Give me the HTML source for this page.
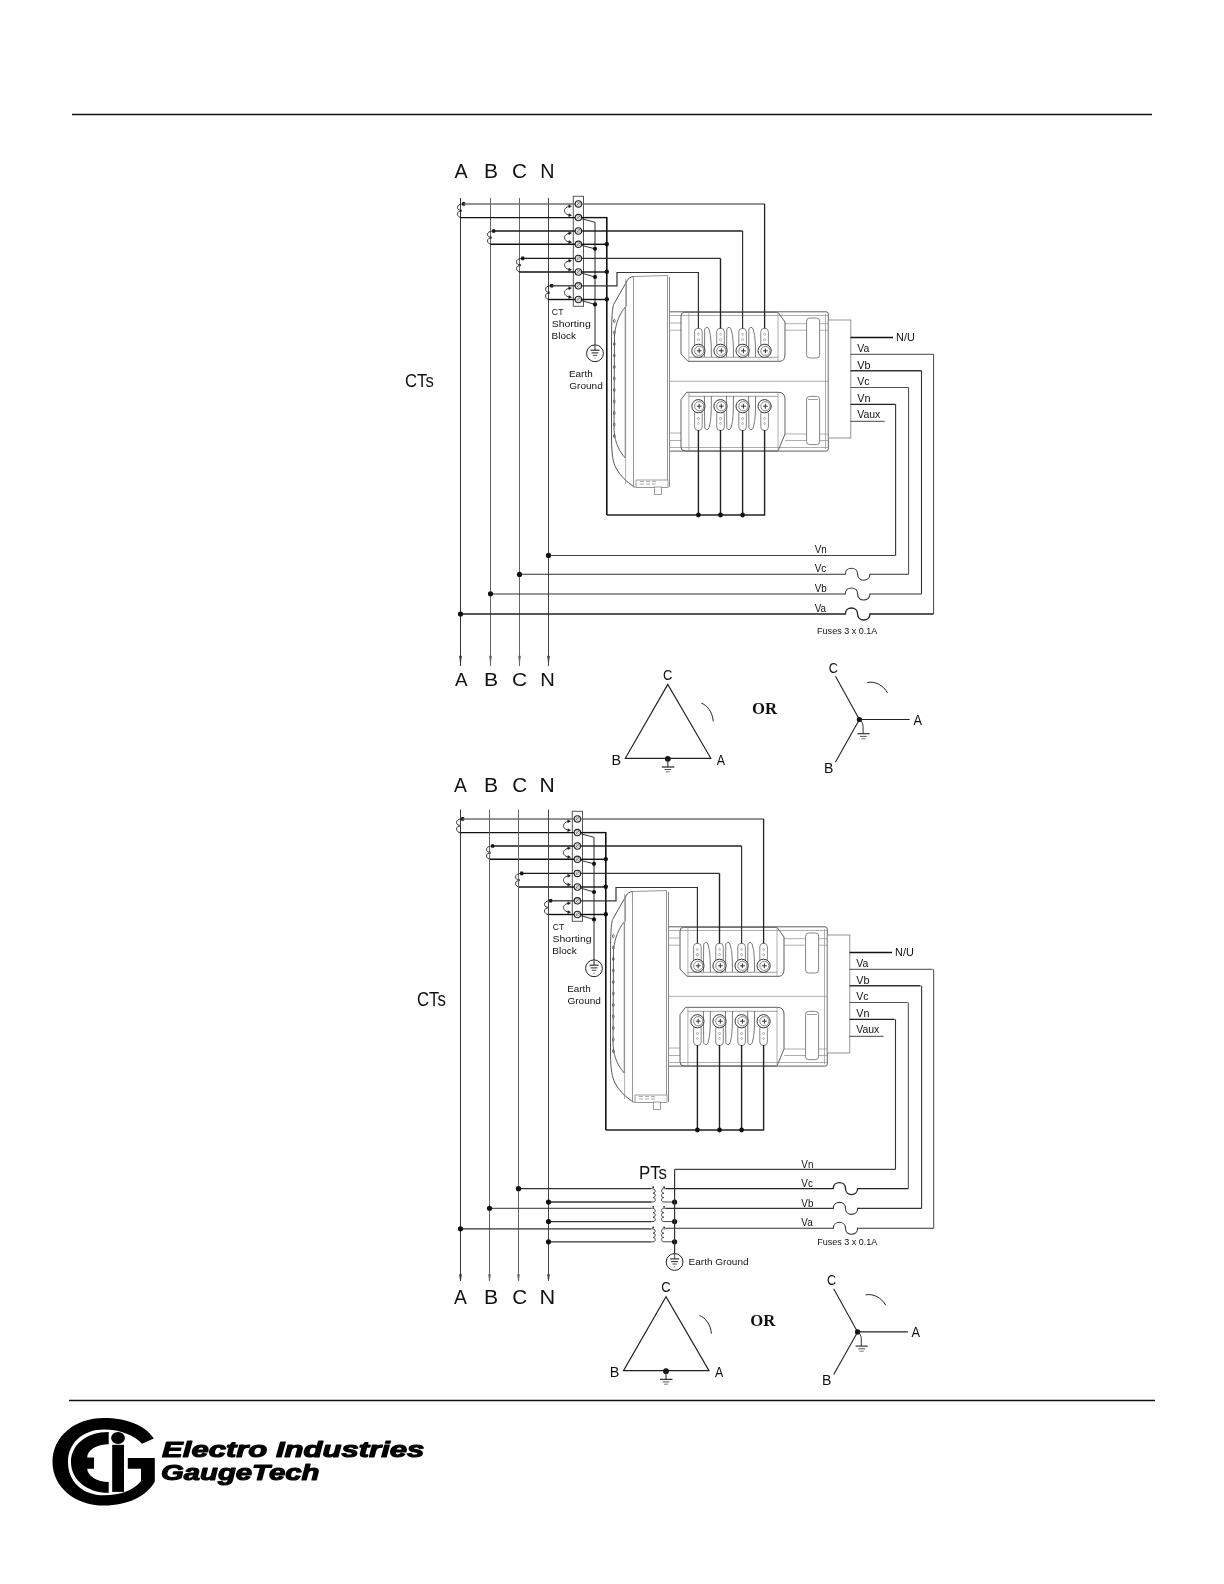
<!DOCTYPE html><html><head><meta charset="utf-8"><style>html,body{margin:0;padding:0;background:#fff;}svg{display:block;will-change:transform;}</style></head><body>
<svg width="1224" height="1584" viewBox="0 0 1224 1584">
<rect width="1224" height="1584" fill="#fff"/>
<line x1="72" y1="114.5" x2="1152" y2="114.5" stroke="#111" stroke-width="1.3"/>
<line x1="69" y1="1400.5" x2="1155" y2="1400.5" stroke="#111" stroke-width="1.3"/>
<defs>
<g id="ctsec">
<rect x="573.3" y="196.3" width="10.2" height="110" fill="none" stroke="#555" stroke-width="1"/>
<path d="M463.0,203.9 C459.5,203.9 457.5,205.4 457.5,207.325 C457.5,209.75 459.5,210.75 462.0,210.25 M462.0,211.25 C459.5,210.75 457.5,211.75 457.5,214.175 C457.5,216.1 459.5,217.6 461.5,217.6" stroke="#222" stroke-width="0.9" fill="none" />
<rect x="462.1" y="202.1" width="3.2" height="3.6" rx="0.8" fill="#111"/>
<path d="M493.0,231.0 C489.5,231.0 487.5,232.5 487.5,234.325 C487.5,236.65 489.5,237.65 492.0,237.15 M492.0,238.15 C489.5,237.65 487.5,238.65 487.5,240.97500000000002 C487.5,242.8 489.5,244.3 491.5,244.3" stroke="#222" stroke-width="0.9" fill="none" />
<rect x="492.1" y="229.2" width="3.2" height="3.6" rx="0.8" fill="#111"/>
<path d="M522.0,258.4 C518.5,258.4 516.5,259.9 516.5,261.79999999999995 C516.5,264.2 518.5,265.2 521.0,264.7 M521.0,265.7 C518.5,265.2 516.5,266.2 516.5,268.6 C516.5,270.5 518.5,272.0 520.5,272.0" stroke="#222" stroke-width="0.9" fill="none" />
<rect x="521.1" y="256.59999999999997" width="3.2" height="3.6" rx="0.8" fill="#111"/>
<path d="M551.0,285.8 C547.5,285.8 545.5,287.3 545.5,289.225 C545.5,291.65 547.5,292.65 550.0,292.15 M550.0,293.15 C547.5,292.65 545.5,293.65 545.5,296.075 C545.5,298.0 547.5,299.5 549.5,299.5" stroke="#222" stroke-width="0.9" fill="none" />
<rect x="550.1" y="284.0" width="3.2" height="3.6" rx="0.8" fill="#111"/>
<line x1="463.5" y1="203.9" x2="575.4" y2="203.9" stroke="#707070" stroke-width="1.5"/>
<line x1="460.5" y1="217.6" x2="575.4" y2="217.6" stroke="#111" stroke-width="1.4"/>
<line x1="493.5" y1="231.0" x2="575.4" y2="231.0" stroke="#1a1a1a" stroke-width="1.3"/>
<line x1="490.5" y1="244.3" x2="575.4" y2="244.3" stroke="#111" stroke-width="1.4"/>
<line x1="522.5" y1="258.4" x2="575.4" y2="258.4" stroke="#1a1a1a" stroke-width="1.3"/>
<line x1="519.5" y1="272.0" x2="575.4" y2="272.0" stroke="#111" stroke-width="1.4"/>
<line x1="551.5" y1="285.8" x2="575.4" y2="285.8" stroke="#333" stroke-width="1.3"/>
<line x1="548.5" y1="299.5" x2="575.4" y2="299.5" stroke="#111" stroke-width="1.4"/>
<circle cx="578.4" cy="203.9" r="3.2" fill="#fff" stroke="#222" stroke-width="1.1"/>
<circle cx="578.6999999999999" cy="203.70000000000002" r="1.7" fill="none" stroke="#666" stroke-width="0.5"/>
<line x1="576.5" y1="205.4" x2="580.1" y2="202.20000000000002" stroke="#333" stroke-width="0.7"/>
<circle cx="578.4" cy="217.6" r="3.2" fill="#fff" stroke="#222" stroke-width="1.1"/>
<circle cx="578.6999999999999" cy="217.4" r="1.7" fill="none" stroke="#666" stroke-width="0.5"/>
<line x1="576.5" y1="219.1" x2="580.1" y2="215.9" stroke="#333" stroke-width="0.7"/>
<circle cx="578.4" cy="231.0" r="3.2" fill="#fff" stroke="#222" stroke-width="1.1"/>
<circle cx="578.6999999999999" cy="230.8" r="1.7" fill="none" stroke="#666" stroke-width="0.5"/>
<line x1="576.5" y1="232.5" x2="580.1" y2="229.3" stroke="#333" stroke-width="0.7"/>
<circle cx="578.4" cy="244.3" r="3.2" fill="#fff" stroke="#222" stroke-width="1.1"/>
<circle cx="578.6999999999999" cy="244.10000000000002" r="1.7" fill="none" stroke="#666" stroke-width="0.5"/>
<line x1="576.5" y1="245.8" x2="580.1" y2="242.60000000000002" stroke="#333" stroke-width="0.7"/>
<circle cx="578.4" cy="258.4" r="3.2" fill="#fff" stroke="#222" stroke-width="1.1"/>
<circle cx="578.6999999999999" cy="258.2" r="1.7" fill="none" stroke="#666" stroke-width="0.5"/>
<line x1="576.5" y1="259.9" x2="580.1" y2="256.7" stroke="#333" stroke-width="0.7"/>
<circle cx="578.4" cy="272.0" r="3.2" fill="#fff" stroke="#222" stroke-width="1.1"/>
<circle cx="578.6999999999999" cy="271.8" r="1.7" fill="none" stroke="#666" stroke-width="0.5"/>
<line x1="576.5" y1="273.5" x2="580.1" y2="270.3" stroke="#333" stroke-width="0.7"/>
<circle cx="578.4" cy="285.8" r="3.2" fill="#fff" stroke="#222" stroke-width="1.1"/>
<circle cx="578.6999999999999" cy="285.6" r="1.7" fill="none" stroke="#666" stroke-width="0.5"/>
<line x1="576.5" y1="287.3" x2="580.1" y2="284.1" stroke="#333" stroke-width="0.7"/>
<circle cx="578.4" cy="299.5" r="3.2" fill="#fff" stroke="#222" stroke-width="1.1"/>
<circle cx="578.6999999999999" cy="299.3" r="1.7" fill="none" stroke="#666" stroke-width="0.5"/>
<line x1="576.5" y1="301.0" x2="580.1" y2="297.8" stroke="#333" stroke-width="0.7"/>
<path d="M570.6,206.45 C566.5,206.25 564.5,208.75 564.5,210.75 C564.5,212.75 566.5,215.25 570.6,215.05" stroke="#222" stroke-width="0.9" fill="none" />
<path d="M568.6,204.75 L571.6,206.15 L568.9,207.85 Z" stroke="#222" stroke-width="0.4" fill="#222" />
<path d="M568.9,213.65 L571.6,215.35 L568.6,216.75 Z" stroke="#222" stroke-width="0.4" fill="#222" />
<path d="M570.6,233.35 C566.5,233.15 564.5,235.65 564.5,237.65 C564.5,239.65 566.5,242.15 570.6,241.95000000000002" stroke="#222" stroke-width="0.9" fill="none" />
<path d="M568.6,231.65 L571.6,233.05 L568.9,234.75 Z" stroke="#222" stroke-width="0.4" fill="#222" />
<path d="M568.9,240.55 L571.6,242.25 L568.6,243.65 Z" stroke="#222" stroke-width="0.4" fill="#222" />
<path d="M570.6,260.9 C566.5,260.7 564.5,263.2 564.5,265.2 C564.5,267.2 566.5,269.7 570.6,269.5" stroke="#222" stroke-width="0.9" fill="none" />
<path d="M568.6,259.2 L571.6,260.59999999999997 L568.9,262.3 Z" stroke="#222" stroke-width="0.4" fill="#222" />
<path d="M568.9,268.09999999999997 L571.6,269.8 L568.6,271.2 Z" stroke="#222" stroke-width="0.4" fill="#222" />
<path d="M570.6,288.34999999999997 C566.5,288.15 564.5,290.65 564.5,292.65 C564.5,294.65 566.5,297.15 570.6,296.95" stroke="#222" stroke-width="0.9" fill="none" />
<path d="M568.6,286.65 L571.6,288.04999999999995 L568.9,289.75 Z" stroke="#222" stroke-width="0.4" fill="#222" />
<path d="M568.9,295.54999999999995 L571.6,297.25 L568.6,298.65 Z" stroke="#222" stroke-width="0.4" fill="#222" />
<line x1="595.0" y1="222.3" x2="595.0" y2="345" stroke="#777" stroke-width="1.6"/>
<line x1="581.1999999999999" y1="218.6" x2="595.0" y2="222.3" stroke="#333" stroke-width="1.0"/>
<line x1="581.1999999999999" y1="245.3" x2="595.0" y2="248.8" stroke="#333" stroke-width="1.0"/>
<circle cx="595.0" cy="248.8" r="2.1" fill="#111"/>
<line x1="581.1999999999999" y1="273.0" x2="595.0" y2="277.0" stroke="#333" stroke-width="1.0"/>
<circle cx="595.0" cy="277.0" r="2.1" fill="#111"/>
<line x1="581.1999999999999" y1="300.5" x2="595.0" y2="304.4" stroke="#333" stroke-width="1.0"/>
<circle cx="595.0" cy="304.4" r="2.1" fill="#111"/>
<line x1="581.4" y1="217.6" x2="606.8" y2="217.6" stroke="#111" stroke-width="1.4"/>
<line x1="581.4" y1="244.3" x2="606.8" y2="244.3" stroke="#111" stroke-width="1.4"/>
<circle cx="606.8" cy="244.10000000000002" r="2.2" fill="#111"/>
<line x1="581.4" y1="272.0" x2="606.8" y2="272.0" stroke="#111" stroke-width="1.4"/>
<circle cx="606.8" cy="271.8" r="2.2" fill="#111"/>
<line x1="581.4" y1="299.5" x2="606.8" y2="299.5" stroke="#111" stroke-width="1.4"/>
<circle cx="606.8" cy="299.3" r="2.2" fill="#111"/>
<line x1="606.8" y1="217.0" x2="606.8" y2="515" stroke="#111" stroke-width="1.6"/>
<line x1="581.4" y1="203.9" x2="764.6" y2="203.9" stroke="#707070" stroke-width="1.5"/>
<line x1="764.6" y1="203.9" x2="764.6" y2="328.5" stroke="#222" stroke-width="1.3"/>
<line x1="581.4" y1="231.0" x2="742.6" y2="231.0" stroke="#222" stroke-width="1.3"/>
<line x1="742.6" y1="231.0" x2="742.6" y2="328.5" stroke="#333" stroke-width="1.2"/>
<line x1="581.4" y1="258.4" x2="720.5" y2="258.4" stroke="#333" stroke-width="1.2"/>
<line x1="720.5" y1="258.4" x2="720.5" y2="328.5" stroke="#222" stroke-width="1.4"/>
<polyline points="581.4,285.8 617,285.8 617,272.5 698.4,272.5 698.4,328.5" fill="none" stroke="#333" stroke-width="1.2"/>
<polyline points="606.8,515 764.6,515 764.6,430" fill="none" stroke="#222" stroke-width="1.4"/>
<line x1="698.4" y1="430" x2="698.4" y2="515" stroke="#222" stroke-width="1.4"/>
<circle cx="698.4" cy="515" r="2.4" fill="#111"/>
<line x1="720.5" y1="430" x2="720.5" y2="515" stroke="#222" stroke-width="1.4"/>
<circle cx="720.5" cy="515" r="2.4" fill="#111"/>
<line x1="742.6" y1="430" x2="742.6" y2="515" stroke="#222" stroke-width="1.4"/>
<circle cx="742.6" cy="515" r="2.4" fill="#111"/>
<circle cx="595.0" cy="353.3" r="8.4" fill="#fff" stroke="#222" stroke-width="1"/>
<line x1="595.0" y1="345" x2="595.0" y2="350" stroke="#777" stroke-width="1.6"/>
<line x1="590.5" y1="350.2" x2="599.5" y2="350.2" stroke="#222" stroke-width="1.1"/>
<line x1="591.6" y1="352.9" x2="598.4" y2="352.9" stroke="#222" stroke-width="1.0"/>
<line x1="592.8" y1="355.3" x2="597.2" y2="355.3" stroke="#333" stroke-width="0.9"/>
<line x1="594.4" y1="358.2" x2="595.6" y2="358.2" stroke="#555" stroke-width="0.8"/>
</g>
<g id="meter">
<path d="M633.5,276.5 L667.5,275.5 L667.5,487 L633.5,487 Z" stroke="#8a8a8a" stroke-width="0.9" fill="#fff" />
<line x1="669.5" y1="277" x2="669.5" y2="487" stroke="#888" stroke-width="1.0"/>
<path d="M633.5,276.5 C630,277 628.5,278.5 627.3,280.4 L613.6,304.5 C612,310 611.6,320 611.5,340 L611.5,440 C611.8,455 613,462 616,468 C620,476 627,482 633.5,486.5" stroke="#555" stroke-width="1.0" fill="none" />
<path d="M625.3,307 C620,313 616,322 614.5,335 L614,430 C615,444 620,452 625.3,458 Z" stroke="#606060" stroke-width="1.0" fill="none" />
<line x1="626.4" y1="280.4" x2="626.4" y2="306.5" stroke="#777" stroke-width="0.8"/>
<line x1="625.6" y1="279" x2="625.6" y2="484" stroke="#999" stroke-width="0.8"/>
<ellipse cx="614.3" cy="321.0" rx="0.9" ry="1.6" fill="none" stroke="#555" stroke-width="0.8"/>
<ellipse cx="614.3" cy="332.5" rx="0.9" ry="1.6" fill="none" stroke="#555" stroke-width="0.8"/>
<ellipse cx="614.3" cy="344.0" rx="0.9" ry="1.6" fill="none" stroke="#555" stroke-width="0.8"/>
<ellipse cx="614.3" cy="355.5" rx="0.9" ry="1.6" fill="none" stroke="#555" stroke-width="0.8"/>
<ellipse cx="614.3" cy="367.0" rx="0.9" ry="1.6" fill="none" stroke="#555" stroke-width="0.8"/>
<ellipse cx="614.3" cy="378.5" rx="0.9" ry="1.6" fill="none" stroke="#555" stroke-width="0.8"/>
<ellipse cx="614.3" cy="390.0" rx="0.9" ry="1.6" fill="none" stroke="#555" stroke-width="0.8"/>
<ellipse cx="614.3" cy="401.5" rx="0.9" ry="1.6" fill="none" stroke="#555" stroke-width="0.8"/>
<ellipse cx="614.3" cy="413.0" rx="0.9" ry="1.6" fill="none" stroke="#555" stroke-width="0.8"/>
<ellipse cx="614.3" cy="424.5" rx="0.9" ry="1.6" fill="none" stroke="#555" stroke-width="0.8"/>
<ellipse cx="614.3" cy="436.0" rx="0.9" ry="1.6" fill="none" stroke="#555" stroke-width="0.8"/>
<rect x="636" y="480" width="32" height="7.5" fill="#fff" stroke="#777" stroke-width="0.7"/>
<line x1="640" y1="481.5" x2="644" y2="481.5" stroke="#777" stroke-width="0.6"/>
<line x1="640" y1="484" x2="644" y2="484" stroke="#777" stroke-width="0.6"/>
<line x1="646" y1="481.5" x2="650" y2="481.5" stroke="#777" stroke-width="0.6"/>
<line x1="646" y1="484" x2="650" y2="484" stroke="#777" stroke-width="0.6"/>
<line x1="652" y1="481.5" x2="656" y2="481.5" stroke="#777" stroke-width="0.6"/>
<line x1="652" y1="484" x2="656" y2="484" stroke="#777" stroke-width="0.6"/>
<rect x="654.5" y="487" width="6.9" height="7.4" fill="#fff" stroke="#777" stroke-width="0.7"/>
<path d="M669.8,311.8 L826,311.8 Q828.3,311.8 828.3,314 L828.3,449 Q828.3,451.1 826,451.1 L669.8,451.1" stroke="#606060" stroke-width="1.0" fill="none" />
<line x1="669.8" y1="315.5" x2="828.3" y2="315.5" stroke="#999" stroke-width="0.8"/>
<line x1="669.8" y1="381.3" x2="828.3" y2="381.3" stroke="#999" stroke-width="0.8"/>
<line x1="825.5" y1="314" x2="825.5" y2="449" stroke="#999" stroke-width="0.8"/>
<line x1="669.8" y1="447.5" x2="828.3" y2="447.5" stroke="#999" stroke-width="0.8"/>
<line x1="669.8" y1="323" x2="681" y2="323" stroke="#999" stroke-width="0.8"/>
<line x1="669.8" y1="330.2" x2="681" y2="330.2" stroke="#999" stroke-width="0.8"/>
<line x1="669.8" y1="433" x2="681" y2="433" stroke="#999" stroke-width="0.8"/>
<line x1="669.8" y1="440.5" x2="681" y2="440.5" stroke="#999" stroke-width="0.8"/>
<line x1="785" y1="323.7" x2="806" y2="323.7" stroke="#999" stroke-width="0.8"/>
<line x1="820" y1="323.7" x2="828" y2="323.7" stroke="#999" stroke-width="0.8"/>
<line x1="785" y1="330.2" x2="806" y2="330.2" stroke="#999" stroke-width="0.8"/>
<line x1="820" y1="330.2" x2="828" y2="330.2" stroke="#999" stroke-width="0.8"/>
<line x1="785" y1="434" x2="806" y2="434" stroke="#999" stroke-width="0.8"/>
<line x1="820" y1="434" x2="828" y2="434" stroke="#999" stroke-width="0.8"/>
<line x1="785" y1="440.5" x2="806" y2="440.5" stroke="#999" stroke-width="0.8"/>
<line x1="820" y1="440.5" x2="828" y2="440.5" stroke="#999" stroke-width="0.8"/>
<path d="M681,316 Q681,312.3 684.5,312.3 L778,312.3 L785,322 L785,354 Q785,361.3 780,361.3 L688,361.3 L681,354 Z" stroke="#606060" stroke-width="1.0" fill="none" />
<line x1="688.9" y1="312.3" x2="688.9" y2="361.3" stroke="#999" stroke-width="0.8"/>
<line x1="778" y1="312.3" x2="778" y2="361.3" stroke="#999" stroke-width="0.8"/>
<line x1="688.9" y1="357.3" x2="778" y2="357.3" stroke="#888" stroke-width="0.8"/>
<path d="M681,399.6 L686.6,392.3 L778,392.3 Q785,392.3 785,399 L785,434 L778,451 L685,451 Q681,451 681,447 Z" stroke="#606060" stroke-width="1.0" fill="none" />
<line x1="688.9" y1="392.3" x2="688.9" y2="451" stroke="#999" stroke-width="0.8"/>
<line x1="778" y1="392.3" x2="778" y2="451" stroke="#999" stroke-width="0.8"/>
<line x1="688.9" y1="396.3" x2="778" y2="396.3" stroke="#888" stroke-width="0.8"/>
<rect x="806.6" y="318" width="13" height="40" rx="3" fill="#fff" stroke="#777" stroke-width="0.9"/>
<rect x="806.6" y="396.4" width="13" height="48.2" rx="3" fill="#fff" stroke="#777" stroke-width="0.9"/>
<line x1="808" y1="399.5" x2="818" y2="399.5" stroke="#888" stroke-width="0.8"/>
<rect x="828.3" y="320" width="22.5" height="118" fill="#fff" stroke="#888" stroke-width="0.9"/>
<rect x="694.6" y="328.3" width="7.6" height="20" rx="3.5" fill="#fff" stroke="#666" stroke-width="0.8"/>
<circle cx="698.4" cy="334.4" r="0.9" fill="none" stroke="#888" stroke-width="0.6"/>
<circle cx="698.4" cy="339.6" r="1.1" fill="none" stroke="#888" stroke-width="0.6"/>
<path d="M704.4,357 L704.6999999999999,329 Q706.9,325.5 708.9,329 Q710.9,334 711.1999999999999,345 L711.4,357" stroke="#6a6a6a" stroke-width="0.9" fill="none" />
<circle cx="698.4" cy="350.8" r="6.6" fill="#fff" stroke="#333" stroke-width="1"/>
<circle cx="699.1999999999999" cy="350.8" r="4.6" fill="none" stroke="#555" stroke-width="0.7"/>
<line x1="696.8" y1="350.8" x2="701.5999999999999" y2="350.8" stroke="#333" stroke-width="1.0"/>
<line x1="699.1999999999999" y1="348.4" x2="699.1999999999999" y2="353.2" stroke="#333" stroke-width="1.0"/>
<rect x="694.6" y="410" width="7.6" height="20.5" rx="3.5" fill="#fff" stroke="#666" stroke-width="0.8"/>
<circle cx="698.4" cy="418.5" r="1.1" fill="none" stroke="#888" stroke-width="0.6"/>
<circle cx="698.4" cy="423.5" r="0.9" fill="none" stroke="#888" stroke-width="0.6"/>
<path d="M704.4,396 L704.6999999999999,428 Q706.9,431.5 708.9,428 Q710.9,423 711.1999999999999,412 L711.4,396" stroke="#6a6a6a" stroke-width="0.9" fill="none" />
<circle cx="698.4" cy="406.2" r="6.6" fill="#fff" stroke="#333" stroke-width="1"/>
<circle cx="699.1999999999999" cy="406.2" r="4.6" fill="none" stroke="#555" stroke-width="0.7"/>
<line x1="696.8" y1="406.2" x2="701.5999999999999" y2="406.2" stroke="#333" stroke-width="1.0"/>
<line x1="699.1999999999999" y1="403.8" x2="699.1999999999999" y2="408.6" stroke="#333" stroke-width="1.0"/>
<rect x="716.7" y="328.3" width="7.6" height="20" rx="3.5" fill="#fff" stroke="#666" stroke-width="0.8"/>
<circle cx="720.5" cy="334.4" r="0.9" fill="none" stroke="#888" stroke-width="0.6"/>
<circle cx="720.5" cy="339.6" r="1.1" fill="none" stroke="#888" stroke-width="0.6"/>
<path d="M726.5,357 L726.8,329 Q729.0,325.5 731.0,329 Q733.0,334 733.3,345 L733.5,357" stroke="#6a6a6a" stroke-width="0.9" fill="none" />
<circle cx="720.5" cy="350.8" r="6.6" fill="#fff" stroke="#333" stroke-width="1"/>
<circle cx="721.3" cy="350.8" r="4.6" fill="none" stroke="#555" stroke-width="0.7"/>
<line x1="718.9" y1="350.8" x2="723.6999999999999" y2="350.8" stroke="#333" stroke-width="1.0"/>
<line x1="721.3" y1="348.4" x2="721.3" y2="353.2" stroke="#333" stroke-width="1.0"/>
<rect x="716.7" y="410" width="7.6" height="20.5" rx="3.5" fill="#fff" stroke="#666" stroke-width="0.8"/>
<circle cx="720.5" cy="418.5" r="1.1" fill="none" stroke="#888" stroke-width="0.6"/>
<circle cx="720.5" cy="423.5" r="0.9" fill="none" stroke="#888" stroke-width="0.6"/>
<path d="M726.5,396 L726.8,428 Q729.0,431.5 731.0,428 Q733.0,423 733.3,412 L733.5,396" stroke="#6a6a6a" stroke-width="0.9" fill="none" />
<circle cx="720.5" cy="406.2" r="6.6" fill="#fff" stroke="#333" stroke-width="1"/>
<circle cx="721.3" cy="406.2" r="4.6" fill="none" stroke="#555" stroke-width="0.7"/>
<line x1="718.9" y1="406.2" x2="723.6999999999999" y2="406.2" stroke="#333" stroke-width="1.0"/>
<line x1="721.3" y1="403.8" x2="721.3" y2="408.6" stroke="#333" stroke-width="1.0"/>
<rect x="738.8000000000001" y="328.3" width="7.6" height="20" rx="3.5" fill="#fff" stroke="#666" stroke-width="0.8"/>
<circle cx="742.6" cy="334.4" r="0.9" fill="none" stroke="#888" stroke-width="0.6"/>
<circle cx="742.6" cy="339.6" r="1.1" fill="none" stroke="#888" stroke-width="0.6"/>
<path d="M748.6,357 L748.9,329 Q751.1,325.5 753.1,329 Q755.1,334 755.4,345 L755.6,357" stroke="#6a6a6a" stroke-width="0.9" fill="none" />
<circle cx="742.6" cy="350.8" r="6.6" fill="#fff" stroke="#333" stroke-width="1"/>
<circle cx="743.4" cy="350.8" r="4.6" fill="none" stroke="#555" stroke-width="0.7"/>
<line x1="741.0" y1="350.8" x2="745.8" y2="350.8" stroke="#333" stroke-width="1.0"/>
<line x1="743.4" y1="348.4" x2="743.4" y2="353.2" stroke="#333" stroke-width="1.0"/>
<rect x="738.8000000000001" y="410" width="7.6" height="20.5" rx="3.5" fill="#fff" stroke="#666" stroke-width="0.8"/>
<circle cx="742.6" cy="418.5" r="1.1" fill="none" stroke="#888" stroke-width="0.6"/>
<circle cx="742.6" cy="423.5" r="0.9" fill="none" stroke="#888" stroke-width="0.6"/>
<path d="M748.6,396 L748.9,428 Q751.1,431.5 753.1,428 Q755.1,423 755.4,412 L755.6,396" stroke="#6a6a6a" stroke-width="0.9" fill="none" />
<circle cx="742.6" cy="406.2" r="6.6" fill="#fff" stroke="#333" stroke-width="1"/>
<circle cx="743.4" cy="406.2" r="4.6" fill="none" stroke="#555" stroke-width="0.7"/>
<line x1="741.0" y1="406.2" x2="745.8" y2="406.2" stroke="#333" stroke-width="1.0"/>
<line x1="743.4" y1="403.8" x2="743.4" y2="408.6" stroke="#333" stroke-width="1.0"/>
<rect x="760.8000000000001" y="328.3" width="7.6" height="20" rx="3.5" fill="#fff" stroke="#666" stroke-width="0.8"/>
<circle cx="764.6" cy="334.4" r="0.9" fill="none" stroke="#888" stroke-width="0.6"/>
<circle cx="764.6" cy="339.6" r="1.1" fill="none" stroke="#888" stroke-width="0.6"/>
<circle cx="764.6" cy="350.8" r="6.6" fill="#fff" stroke="#333" stroke-width="1"/>
<circle cx="765.4" cy="350.8" r="4.6" fill="none" stroke="#555" stroke-width="0.7"/>
<line x1="763.0" y1="350.8" x2="767.8" y2="350.8" stroke="#333" stroke-width="1.0"/>
<line x1="765.4" y1="348.4" x2="765.4" y2="353.2" stroke="#333" stroke-width="1.0"/>
<rect x="760.8000000000001" y="410" width="7.6" height="20.5" rx="3.5" fill="#fff" stroke="#666" stroke-width="0.8"/>
<circle cx="764.6" cy="418.5" r="1.1" fill="none" stroke="#888" stroke-width="0.6"/>
<circle cx="764.6" cy="423.5" r="0.9" fill="none" stroke="#888" stroke-width="0.6"/>
<circle cx="764.6" cy="406.2" r="6.6" fill="#fff" stroke="#333" stroke-width="1"/>
<circle cx="765.4" cy="406.2" r="4.6" fill="none" stroke="#555" stroke-width="0.7"/>
<line x1="763.0" y1="406.2" x2="767.8" y2="406.2" stroke="#333" stroke-width="1.0"/>
<line x1="765.4" y1="403.8" x2="765.4" y2="408.6" stroke="#333" stroke-width="1.0"/>
<line x1="850.5" y1="337.5" x2="893" y2="337.5" stroke="#111" stroke-width="1.3"/>
<text x="896.12" y="341.4" font-family='"Liberation Sans", sans-serif' font-size="10.47" font-weight="normal" font-style="normal" fill="#111" text-anchor="start" textLength="18.67" lengthAdjust="spacingAndGlyphs">N/U</text>
<text x="857.2" y="351.9" font-family='"Liberation Sans", sans-serif' font-size="10.03" font-weight="normal" font-style="normal" fill="#111" text-anchor="start" textLength="12.02" lengthAdjust="spacingAndGlyphs">Va</text>
<text x="857.2" y="368.5" font-family='"Liberation Sans", sans-serif' font-size="10.03" font-weight="normal" font-style="normal" fill="#111" text-anchor="start" textLength="13.26" lengthAdjust="spacingAndGlyphs">Vb</text>
<text x="857.2" y="385.2" font-family='"Liberation Sans", sans-serif' font-size="10.03" font-weight="normal" font-style="normal" fill="#111" text-anchor="start" textLength="12.42" lengthAdjust="spacingAndGlyphs">Vc</text>
<text x="857.2" y="401.9" font-family='"Liberation Sans", sans-serif' font-size="10.03" font-weight="normal" font-style="normal" fill="#111" text-anchor="start" textLength="13.26" lengthAdjust="spacingAndGlyphs">Vn</text>
<text x="857.2" y="418.3" font-family='"Liberation Sans", sans-serif' font-size="10.03" font-weight="normal" font-style="normal" fill="#111" text-anchor="start" textLength="23.1" lengthAdjust="spacingAndGlyphs">Vaux</text>
<line x1="850.5" y1="354.3" x2="933.6" y2="354.3" stroke="#444" stroke-width="1.0"/>
<line x1="850.5" y1="370.8" x2="921.5" y2="370.8" stroke="#333" stroke-width="1.4"/>
<line x1="850.5" y1="387.5" x2="908.6" y2="387.5" stroke="#555" stroke-width="1.0"/>
<line x1="850.5" y1="404.3" x2="895.6" y2="404.3" stroke="#222" stroke-width="1.3"/>
<line x1="850.5" y1="421.3" x2="884.6" y2="421.3" stroke="#444" stroke-width="1.0"/>
</g>
</defs>
<text x="454.4" y="177.5" font-family='"Liberation Sans", sans-serif' font-size="21.08" font-weight="normal" font-style="normal" fill="#111" text-anchor="start" textLength="13.16" lengthAdjust="spacingAndGlyphs">A</text>
<text x="483.96" y="177.5" font-family='"Liberation Sans", sans-serif' font-size="21.08" font-weight="normal" font-style="normal" fill="#111" text-anchor="start" textLength="14.0" lengthAdjust="spacingAndGlyphs">B</text>
<text x="512.02" y="177.5" font-family='"Liberation Sans", sans-serif' font-size="21.08" font-weight="normal" font-style="normal" fill="#111" text-anchor="start" textLength="14.93" lengthAdjust="spacingAndGlyphs">C</text>
<text x="540.36" y="177.5" font-family='"Liberation Sans", sans-serif' font-size="21.08" font-weight="normal" font-style="normal" fill="#111" text-anchor="start" textLength="14.25" lengthAdjust="spacingAndGlyphs">N</text>
<text x="405.02" y="387" font-family='"Liberation Sans", sans-serif' font-size="18.9" font-weight="normal" font-style="normal" fill="#111" text-anchor="start" textLength="28.76" lengthAdjust="spacingAndGlyphs">CTs</text>
<line x1="460.5" y1="198" x2="460.5" y2="666" stroke="#333" stroke-width="1.0"/>
<path d="M459.4,656 L460.5,663 L461.6,656 Z" stroke="#333" stroke-width="0.5" fill="#333" />
<line x1="490.5" y1="198" x2="490.5" y2="666" stroke="#666" stroke-width="1.0"/>
<path d="M489.4,656 L490.5,663 L491.6,656 Z" stroke="#666" stroke-width="0.5" fill="#666" />
<line x1="519.5" y1="198" x2="519.5" y2="666" stroke="#666" stroke-width="1.0"/>
<path d="M518.4,656 L519.5,663 L520.6,656 Z" stroke="#666" stroke-width="0.5" fill="#666" />
<line x1="548.5" y1="198" x2="548.5" y2="666" stroke="#444" stroke-width="1.0"/>
<path d="M547.4,656 L548.5,663 L549.6,656 Z" stroke="#444" stroke-width="0.5" fill="#444" />
<path d="M548.5,555.5 L895.6,555.5" stroke="#444" stroke-width="1.1" fill="none" />
<path d="M519.5,574.2 L845.3,574.2 C845.3,566.2 857.5999999999999,566.2 857.5999999999999,574.2 C857.5999999999999,582.2 869.9,582.2 869.9,574.2 L908.6,574.2" stroke="#333" stroke-width="1.1" fill="none" />
<path d="M490.5,594.0 L845.3,594.0 C845.3,586.0 857.5999999999999,586.0 857.5999999999999,594.0 C857.5999999999999,602.0 869.9,602.0 869.9,594.0 L921.5,594.0" stroke="#333" stroke-width="1.1" fill="none" />
<path d="M460.5,614.0 L845.3,614.0 C845.3,606.0 857.5999999999999,606.0 857.5999999999999,614.0 C857.5999999999999,622.0 869.9,622.0 869.9,614.0 L933.6,614.0" stroke="#222" stroke-width="1.4" fill="none" />
<circle cx="548.5" cy="555.4" r="2.6" fill="#111"/>
<circle cx="519.5" cy="574.4" r="2.6" fill="#111"/>
<circle cx="490.5" cy="593.8" r="2.6" fill="#111"/>
<circle cx="460.5" cy="614.0" r="2.6" fill="#111"/>
<line x1="895.6" y1="404.3" x2="895.6" y2="555.5" stroke="#333" stroke-width="1.1"/>
<line x1="908.6" y1="387.5" x2="908.6" y2="574.2" stroke="#444" stroke-width="1.0"/>
<line x1="921.5" y1="370.8" x2="921.5" y2="594.0" stroke="#333" stroke-width="1.1"/>
<line x1="933.6" y1="354.3" x2="933.6" y2="614.0" stroke="#444" stroke-width="1.0"/>
<text x="814.7" y="553.3" font-family='"Liberation Sans", sans-serif' font-size="10.3" font-weight="normal" font-style="normal" fill="#111" text-anchor="start" textLength="12.08" lengthAdjust="spacingAndGlyphs">Vn</text>
<text x="814.7" y="572.3" font-family='"Liberation Sans", sans-serif' font-size="10.3" font-weight="normal" font-style="normal" fill="#111" text-anchor="start" textLength="11.53" lengthAdjust="spacingAndGlyphs">Vc</text>
<text x="814.7" y="591.8" font-family='"Liberation Sans", sans-serif' font-size="10.3" font-weight="normal" font-style="normal" fill="#111" text-anchor="start" textLength="12.08" lengthAdjust="spacingAndGlyphs">Vb</text>
<text x="814.7" y="611.5" font-family='"Liberation Sans", sans-serif' font-size="10.3" font-weight="normal" font-style="normal" fill="#111" text-anchor="start" textLength="11.35" lengthAdjust="spacingAndGlyphs">Va</text>
<text x="817.1" y="633.5" font-family='"Liberation Sans", sans-serif' font-size="9.74" font-weight="normal" font-style="normal" fill="#111" text-anchor="start" textLength="60.17" lengthAdjust="spacingAndGlyphs">Fuses 3 x 0.1A</text>
<use href="#meter"/>
<use href="#ctsec"/>
<g transform="translate(0,0)">
<text x="551.85" y="314.5" font-family='"Liberation Sans", sans-serif' font-size="9.59" font-weight="normal" font-style="normal" fill="#111" text-anchor="start" textLength="11.61" lengthAdjust="spacingAndGlyphs">CT</text>
<text x="551.75" y="326.8" font-family='"Liberation Sans", sans-serif' font-size="9.59" font-weight="normal" font-style="normal" fill="#111" text-anchor="start" textLength="39.0" lengthAdjust="spacingAndGlyphs">Shorting</text>
<text x="551.52" y="339.4" font-family='"Liberation Sans", sans-serif' font-size="9.59" font-weight="normal" font-style="normal" fill="#111" text-anchor="start" textLength="24.46" lengthAdjust="spacingAndGlyphs">Block</text>
</g>
<g transform="translate(0,0)">
<text x="569.03" y="377.2" font-family='"Liberation Sans", sans-serif' font-size="9.59" font-weight="normal" font-style="normal" fill="#111" text-anchor="start" textLength="23.65" lengthAdjust="spacingAndGlyphs">Earth</text>
<text x="569.28" y="389.4" font-family='"Liberation Sans", sans-serif' font-size="9.59" font-weight="normal" font-style="normal" fill="#111" text-anchor="start" textLength="33.46" lengthAdjust="spacingAndGlyphs">Ground</text>
</g>
<text x="454.9" y="685.5" font-family='"Liberation Sans", sans-serif' font-size="19.04" font-weight="normal" font-style="normal" fill="#111" text-anchor="start" textLength="12.55" lengthAdjust="spacingAndGlyphs">A</text>
<text x="484.13" y="685.5" font-family='"Liberation Sans", sans-serif' font-size="19.04" font-weight="normal" font-style="normal" fill="#111" text-anchor="start" textLength="14.13" lengthAdjust="spacingAndGlyphs">B</text>
<text x="512.1" y="685.5" font-family='"Liberation Sans", sans-serif' font-size="19.04" font-weight="normal" font-style="normal" fill="#111" text-anchor="start" textLength="15.12" lengthAdjust="spacingAndGlyphs">C</text>
<text x="540.21" y="685.5" font-family='"Liberation Sans", sans-serif' font-size="19.04" font-weight="normal" font-style="normal" fill="#111" text-anchor="start" textLength="14.58" lengthAdjust="spacingAndGlyphs">N</text>
<g transform="translate(0,0)">
<path d="M667.8,684.4 L625.3,758.3 L710.8,758.3 Z" stroke="#222" stroke-width="1.2" fill="none" />
<circle cx="667.8" cy="758.8" r="2.9" fill="#111"/>
<line x1="667.8" y1="758.8" x2="667.8" y2="767" stroke="#333" stroke-width="1.1"/>
<line x1="661.8" y1="767" x2="674.3" y2="767" stroke="#333" stroke-width="1.3"/>
<line x1="664.5" y1="769.5" x2="671.2" y2="769.5" stroke="#555" stroke-width="1.0"/>
<line x1="666" y1="771.8" x2="669.6" y2="771.8" stroke="#666" stroke-width="0.9"/>
<path d="M701.3,703.2 C707,705 712.5,712 713.2,721.2" stroke="#222" stroke-width="1.0" fill="none" />
<text x="663.07" y="679.5" font-family='"Liberation Sans", sans-serif' font-size="15.2" font-weight="normal" font-style="normal" fill="#111" text-anchor="start" textLength="9.36" lengthAdjust="spacingAndGlyphs">C</text>
<text x="611.6" y="764.5" font-family='"Liberation Sans", sans-serif' font-size="14.6" font-weight="normal" font-style="normal" fill="#111" text-anchor="start" textLength="9.6" lengthAdjust="spacingAndGlyphs">B</text>
<text x="716.8" y="764.8" font-family='"Liberation Sans", sans-serif' font-size="14.8" font-weight="normal" font-style="normal" fill="#111" text-anchor="start" textLength="8.3" lengthAdjust="spacingAndGlyphs">A</text>
<text x="752.0" y="713.5" font-family='"Liberation Serif", serif' font-size="15.73" font-weight="bold" font-style="normal" fill="#111" text-anchor="start" textLength="25.12" lengthAdjust="spacingAndGlyphs">OR</text>
<line x1="859.4" y1="719.5" x2="835.5" y2="676.3" stroke="#222" stroke-width="1.1"/>
<line x1="859.4" y1="719.5" x2="909.7" y2="719.5" stroke="#222" stroke-width="1.1"/>
<line x1="859.4" y1="719.5" x2="835.5" y2="762.1" stroke="#222" stroke-width="1.1"/>
<circle cx="859.4" cy="719.5" r="2.6" fill="#111"/>
<path d="M859.4,719.5 C861.4,720.5 863.1,723.5 863.1,726.5 L863.1,733.7" stroke="#333" stroke-width="1.0" fill="none" />
<line x1="857.4" y1="733.7" x2="869.6" y2="733.7" stroke="#333" stroke-width="1.2"/>
<line x1="860" y1="736.4" x2="866.8" y2="736.4" stroke="#555" stroke-width="1.0"/>
<line x1="861.3" y1="738.8" x2="865.6" y2="738.8" stroke="#666" stroke-width="0.9"/>
<path d="M867.4,682.5 C875,681 883,685 887.6,692.9" stroke="#222" stroke-width="1.0" fill="none" />
<text x="828.77" y="672.7" font-family='"Liberation Sans", sans-serif' font-size="15.12" font-weight="normal" font-style="normal" fill="#111" text-anchor="start" textLength="9.2" lengthAdjust="spacingAndGlyphs">C</text>
<text x="913.4" y="724.8" font-family='"Liberation Sans", sans-serif' font-size="15.26" font-weight="normal" font-style="normal" fill="#111" text-anchor="start" textLength="8.53" lengthAdjust="spacingAndGlyphs">A</text>
<text x="823.9" y="772.5" font-family='"Liberation Sans", sans-serif' font-size="15.5" font-weight="normal" font-style="normal" fill="#111" text-anchor="start" textLength="9.4" lengthAdjust="spacingAndGlyphs">B</text>
</g>
<text x="454.1" y="792.2" font-family='"Liberation Sans", sans-serif' font-size="20.49" font-weight="normal" font-style="normal" fill="#111" text-anchor="start" textLength="12.86" lengthAdjust="spacingAndGlyphs">A</text>
<text x="483.99" y="792.2" font-family='"Liberation Sans", sans-serif' font-size="20.49" font-weight="normal" font-style="normal" fill="#111" text-anchor="start" textLength="14.12" lengthAdjust="spacingAndGlyphs">B</text>
<text x="512.19" y="792.2" font-family='"Liberation Sans", sans-serif' font-size="20.49" font-weight="normal" font-style="normal" fill="#111" text-anchor="start" textLength="14.91" lengthAdjust="spacingAndGlyphs">C</text>
<text x="539.5" y="792.2" font-family='"Liberation Sans", sans-serif' font-size="20.49" font-weight="normal" font-style="normal" fill="#111" text-anchor="start" textLength="15.18" lengthAdjust="spacingAndGlyphs">N</text>
<text x="417.04" y="1005.6" font-family='"Liberation Sans", sans-serif' font-size="19.48" font-weight="normal" font-style="normal" fill="#111" text-anchor="start" textLength="28.73" lengthAdjust="spacingAndGlyphs">CTs</text>
<g transform="translate(-1,615)"><use href="#meter"/></g>
<g transform="translate(-1,615)"><use href="#ctsec"/></g>
<g transform="translate(0.8,615)">
<text x="551.85" y="314.5" font-family='"Liberation Sans", sans-serif' font-size="9.59" font-weight="normal" font-style="normal" fill="#111" text-anchor="start" textLength="11.61" lengthAdjust="spacingAndGlyphs">CT</text>
<text x="551.75" y="326.8" font-family='"Liberation Sans", sans-serif' font-size="9.59" font-weight="normal" font-style="normal" fill="#111" text-anchor="start" textLength="39.0" lengthAdjust="spacingAndGlyphs">Shorting</text>
<text x="551.52" y="339.4" font-family='"Liberation Sans", sans-serif' font-size="9.59" font-weight="normal" font-style="normal" fill="#111" text-anchor="start" textLength="24.46" lengthAdjust="spacingAndGlyphs">Block</text>
</g>
<g transform="translate(-1.8,615)">
<text x="569.03" y="377.2" font-family='"Liberation Sans", sans-serif' font-size="9.59" font-weight="normal" font-style="normal" fill="#111" text-anchor="start" textLength="23.65" lengthAdjust="spacingAndGlyphs">Earth</text>
<text x="569.28" y="389.4" font-family='"Liberation Sans", sans-serif' font-size="9.59" font-weight="normal" font-style="normal" fill="#111" text-anchor="start" textLength="33.46" lengthAdjust="spacingAndGlyphs">Ground</text>
</g>
<line x1="460.5" y1="809.5" x2="460.5" y2="1281" stroke="#333" stroke-width="1.0"/>
<path d="M459.4,1274.5 L460.5,1281 L461.6,1274.5 Z" stroke="#333" stroke-width="0.5" fill="#333" />
<line x1="489.5" y1="809.5" x2="489.5" y2="1281" stroke="#666" stroke-width="1.0"/>
<path d="M488.4,1274.5 L489.5,1281 L490.6,1274.5 Z" stroke="#666" stroke-width="0.5" fill="#666" />
<line x1="518.5" y1="809.5" x2="518.5" y2="1281" stroke="#666" stroke-width="1.0"/>
<path d="M517.4,1274.5 L518.5,1281 L519.6,1274.5 Z" stroke="#666" stroke-width="0.5" fill="#666" />
<line x1="548.5" y1="809.5" x2="548.5" y2="1281" stroke="#444" stroke-width="1.0"/>
<path d="M547.4,1274.5 L548.5,1281 L549.6,1274.5 Z" stroke="#444" stroke-width="0.5" fill="#444" />
<line x1="518.5" y1="1188.7" x2="651.5" y2="1188.7" stroke="#333" stroke-width="1.3"/>
<line x1="548.5" y1="1202.0" x2="651.5" y2="1202.0" stroke="#333" stroke-width="1.3"/>
<circle cx="518.5" cy="1188.7" r="2.6" fill="#111"/>
<circle cx="548.5" cy="1202.0" r="2.6" fill="#111"/>
<path d="M651.5,1188.7 L652.5,1188.7 C656.0,1188.7 656.0,1193.1333333333334 653.0,1193.1333333333334 C656.0,1193.1333333333334 656.0,1197.5666666666668 653.0,1197.5666666666668 C656.0,1197.5666666666666 656.0,1202.0 653.0,1202.0 L651.5,1202.0" stroke="#333" stroke-width="0.9" fill="none" />
<circle cx="653.2" cy="1187.2" r="0.9" fill="#222"/>
<path d="M665.8,1188.7 L663.8,1188.7 C660.8,1188.7 660.8,1193.1333333333334 663.8,1193.1333333333334 C660.8,1193.1333333333334 660.8,1197.5666666666668 663.8,1197.5666666666668 C660.8,1197.5666666666666 660.8,1202.0 663.8,1202.0 L674.6,1202.0" stroke="#333" stroke-width="0.9" fill="none" />
<circle cx="664.0999999999999" cy="1187.2" r="0.9" fill="#222"/>
<circle cx="674.6" cy="1202.0" r="2.6" fill="#111"/>
<line x1="489.5" y1="1208.3" x2="651.5" y2="1208.3" stroke="#333" stroke-width="1.0"/>
<line x1="548.5" y1="1221.6" x2="651.5" y2="1221.6" stroke="#333" stroke-width="1.3"/>
<circle cx="489.5" cy="1208.3" r="2.6" fill="#111"/>
<circle cx="548.5" cy="1221.6" r="2.6" fill="#111"/>
<path d="M651.5,1208.3 L652.5,1208.3 C656.0,1208.3 656.0,1212.7333333333333 653.0,1212.7333333333333 C656.0,1212.7333333333333 656.0,1217.1666666666667 653.0,1217.1666666666667 C656.0,1217.1666666666665 656.0,1221.6 653.0,1221.6 L651.5,1221.6" stroke="#333" stroke-width="0.9" fill="none" />
<circle cx="653.2" cy="1206.8" r="0.9" fill="#222"/>
<path d="M665.8,1208.3 L663.8,1208.3 C660.8,1208.3 660.8,1212.7333333333333 663.8,1212.7333333333333 C660.8,1212.7333333333333 660.8,1217.1666666666667 663.8,1217.1666666666667 C660.8,1217.1666666666665 660.8,1221.6 663.8,1221.6 L674.6,1221.6" stroke="#333" stroke-width="0.9" fill="none" />
<circle cx="664.0999999999999" cy="1206.8" r="0.9" fill="#222"/>
<circle cx="674.6" cy="1221.6" r="2.6" fill="#111"/>
<line x1="460.5" y1="1228.8" x2="651.5" y2="1228.8" stroke="#333" stroke-width="1.3"/>
<line x1="548.5" y1="1241.8" x2="651.5" y2="1241.8" stroke="#333" stroke-width="1.3"/>
<circle cx="460.5" cy="1228.8" r="2.6" fill="#111"/>
<circle cx="548.5" cy="1241.8" r="2.6" fill="#111"/>
<path d="M651.5,1228.8 L652.5,1228.8 C656.0,1228.8 656.0,1233.1333333333332 653.0,1233.1333333333332 C656.0,1233.1333333333332 656.0,1237.4666666666665 653.0,1237.4666666666665 C656.0,1237.4666666666667 656.0,1241.8 653.0,1241.8 L651.5,1241.8" stroke="#333" stroke-width="0.9" fill="none" />
<circle cx="653.2" cy="1227.3" r="0.9" fill="#222"/>
<path d="M665.8,1228.8 L663.8,1228.8 C660.8,1228.8 660.8,1233.1333333333332 663.8,1233.1333333333332 C660.8,1233.1333333333332 660.8,1237.4666666666665 663.8,1237.4666666666665 C660.8,1237.4666666666667 660.8,1241.8 663.8,1241.8 L674.6,1241.8" stroke="#333" stroke-width="0.9" fill="none" />
<circle cx="664.0999999999999" cy="1227.3" r="0.9" fill="#222"/>
<circle cx="674.6" cy="1241.8" r="2.6" fill="#111"/>
<line x1="674.6" y1="1169.6" x2="674.6" y2="1254" stroke="#333" stroke-width="1.2"/>
<circle cx="674.6" cy="1262" r="8.4" fill="#fff" stroke="#222" stroke-width="1"/>
<line x1="674.6" y1="1253.6" x2="674.6" y2="1259" stroke="#555" stroke-width="1.1"/>
<line x1="670.1" y1="1258.9" x2="679.1" y2="1258.9" stroke="#222" stroke-width="1.1"/>
<line x1="671.2" y1="1261.6" x2="678.0" y2="1261.6" stroke="#222" stroke-width="1.0"/>
<line x1="672.4" y1="1264" x2="676.8000000000001" y2="1264" stroke="#333" stroke-width="0.9"/>
<line x1="674.0" y1="1266.9" x2="675.2" y2="1266.9" stroke="#555" stroke-width="0.8"/>
<text x="688.62" y="1265.3" font-family='"Liberation Sans", sans-serif' font-size="9.59" font-weight="normal" font-style="normal" fill="#111" text-anchor="start" textLength="59.92" lengthAdjust="spacingAndGlyphs">Earth Ground</text>
<text x="638.97" y="1178.6" font-family='"Liberation Sans", sans-serif' font-size="19.04" font-weight="normal" font-style="normal" fill="#111" text-anchor="start" textLength="28.08" lengthAdjust="spacingAndGlyphs">PTs</text>
<path d="M674.6,1169.4 L895.5,1169.4" stroke="#444" stroke-width="1.1" fill="none" />
<path d="M665.8,1188.6 L833.3,1188.6 C833.3,1180.6 845.5,1180.6 845.5,1188.6 C845.5,1196.6 857.5999999999999,1196.6 857.5999999999999,1188.6 L908.3,1188.6" stroke="#222" stroke-width="1.3" fill="none" />
<path d="M665.8,1208.4 L833.3,1208.4 C833.3,1200.4 845.5,1200.4 845.5,1208.4 C845.5,1216.4 857.5999999999999,1216.4 857.5999999999999,1208.4 L921.6,1208.4" stroke="#333" stroke-width="1.1" fill="none" />
<path d="M665.8,1228.3 L833.3,1228.3 C833.3,1220.3 845.5,1220.3 845.5,1228.3 C845.5,1236.3 857.5999999999999,1236.3 857.5999999999999,1228.3 L933.7,1228.3" stroke="#333" stroke-width="1.1" fill="none" />
<text x="801.3" y="1167.6" font-family='"Liberation Sans", sans-serif' font-size="10.3" font-weight="normal" font-style="normal" fill="#111" text-anchor="start" textLength="12.08" lengthAdjust="spacingAndGlyphs">Vn</text>
<text x="801.3" y="1187" font-family='"Liberation Sans", sans-serif' font-size="10.3" font-weight="normal" font-style="normal" fill="#111" text-anchor="start" textLength="11.53" lengthAdjust="spacingAndGlyphs">Vc</text>
<text x="801.3" y="1206.5" font-family='"Liberation Sans", sans-serif' font-size="10.3" font-weight="normal" font-style="normal" fill="#111" text-anchor="start" textLength="12.08" lengthAdjust="spacingAndGlyphs">Vb</text>
<text x="801.3" y="1226.3" font-family='"Liberation Sans", sans-serif' font-size="10.3" font-weight="normal" font-style="normal" fill="#111" text-anchor="start" textLength="11.35" lengthAdjust="spacingAndGlyphs">Va</text>
<text x="817.2" y="1245.4" font-family='"Liberation Sans", sans-serif' font-size="9.74" font-weight="normal" font-style="normal" fill="#111" text-anchor="start" textLength="60.17" lengthAdjust="spacingAndGlyphs">Fuses 3 x 0.1A</text>
<line x1="895.5" y1="1019.3" x2="895.5" y2="1169.4" stroke="#333" stroke-width="1.1"/>
<line x1="908.3" y1="1002.5" x2="908.3" y2="1188.6" stroke="#444" stroke-width="1.0"/>
<line x1="921.6" y1="985.8" x2="921.6" y2="1208.4" stroke="#333" stroke-width="1.1"/>
<line x1="933.7" y1="969.3" x2="933.7" y2="1228.3" stroke="#444" stroke-width="1.0"/>
<text x="454.1" y="1304" font-family='"Liberation Sans", sans-serif' font-size="20.49" font-weight="normal" font-style="normal" fill="#111" text-anchor="start" textLength="12.86" lengthAdjust="spacingAndGlyphs">A</text>
<text x="483.99" y="1304" font-family='"Liberation Sans", sans-serif' font-size="20.49" font-weight="normal" font-style="normal" fill="#111" text-anchor="start" textLength="14.12" lengthAdjust="spacingAndGlyphs">B</text>
<text x="512.19" y="1304" font-family='"Liberation Sans", sans-serif' font-size="20.49" font-weight="normal" font-style="normal" fill="#111" text-anchor="start" textLength="14.91" lengthAdjust="spacingAndGlyphs">C</text>
<text x="539.44" y="1304" font-family='"Liberation Sans", sans-serif' font-size="20.49" font-weight="normal" font-style="normal" fill="#111" text-anchor="start" textLength="15.7" lengthAdjust="spacingAndGlyphs">N</text>
<g transform="translate(-1.8,612.4)">
<path d="M667.8,684.4 L625.3,758.3 L710.8,758.3 Z" stroke="#222" stroke-width="1.2" fill="none" />
<circle cx="667.8" cy="758.8" r="2.9" fill="#111"/>
<line x1="667.8" y1="758.8" x2="667.8" y2="767" stroke="#333" stroke-width="1.1"/>
<line x1="661.8" y1="767" x2="674.3" y2="767" stroke="#333" stroke-width="1.3"/>
<line x1="664.5" y1="769.5" x2="671.2" y2="769.5" stroke="#555" stroke-width="1.0"/>
<line x1="666" y1="771.8" x2="669.6" y2="771.8" stroke="#666" stroke-width="0.9"/>
<path d="M701.3,703.2 C707,705 712.5,712 713.2,721.2" stroke="#222" stroke-width="1.0" fill="none" />
<text x="663.07" y="679.5" font-family='"Liberation Sans", sans-serif' font-size="15.2" font-weight="normal" font-style="normal" fill="#111" text-anchor="start" textLength="9.36" lengthAdjust="spacingAndGlyphs">C</text>
<text x="611.6" y="764.5" font-family='"Liberation Sans", sans-serif' font-size="14.6" font-weight="normal" font-style="normal" fill="#111" text-anchor="start" textLength="9.6" lengthAdjust="spacingAndGlyphs">B</text>
<text x="716.8" y="764.8" font-family='"Liberation Sans", sans-serif' font-size="14.8" font-weight="normal" font-style="normal" fill="#111" text-anchor="start" textLength="8.3" lengthAdjust="spacingAndGlyphs">A</text>
<text x="752.0" y="713.5" font-family='"Liberation Serif", serif' font-size="15.73" font-weight="bold" font-style="normal" fill="#111" text-anchor="start" textLength="25.12" lengthAdjust="spacingAndGlyphs">OR</text>
<line x1="859.4" y1="719.5" x2="835.5" y2="676.3" stroke="#222" stroke-width="1.1"/>
<line x1="859.4" y1="719.5" x2="909.7" y2="719.5" stroke="#222" stroke-width="1.1"/>
<line x1="859.4" y1="719.5" x2="835.5" y2="762.1" stroke="#222" stroke-width="1.1"/>
<circle cx="859.4" cy="719.5" r="2.6" fill="#111"/>
<path d="M859.4,719.5 C861.4,720.5 863.1,723.5 863.1,726.5 L863.1,733.7" stroke="#333" stroke-width="1.0" fill="none" />
<line x1="857.4" y1="733.7" x2="869.6" y2="733.7" stroke="#333" stroke-width="1.2"/>
<line x1="860" y1="736.4" x2="866.8" y2="736.4" stroke="#555" stroke-width="1.0"/>
<line x1="861.3" y1="738.8" x2="865.6" y2="738.8" stroke="#666" stroke-width="0.9"/>
<path d="M867.4,682.5 C875,681 883,685 887.6,692.9" stroke="#222" stroke-width="1.0" fill="none" />
<text x="828.77" y="672.7" font-family='"Liberation Sans", sans-serif' font-size="15.12" font-weight="normal" font-style="normal" fill="#111" text-anchor="start" textLength="9.2" lengthAdjust="spacingAndGlyphs">C</text>
<text x="913.4" y="724.8" font-family='"Liberation Sans", sans-serif' font-size="15.26" font-weight="normal" font-style="normal" fill="#111" text-anchor="start" textLength="8.53" lengthAdjust="spacingAndGlyphs">A</text>
<text x="823.9" y="772.5" font-family='"Liberation Sans", sans-serif' font-size="15.5" font-weight="normal" font-style="normal" fill="#111" text-anchor="start" textLength="9.4" lengthAdjust="spacingAndGlyphs">B</text>
</g>
<g>
<path fill-rule="evenodd" fill="#000" d="M153.8,1438.4 C145,1425 126,1418 104,1418 C74,1418 52.5,1437 52.5,1462 C52.5,1487 75,1505.6 104,1505.6 C128,1505.6 147,1496 154.8,1481.6 L154.8,1458 L127.8,1458 L127.8,1468.8 L141,1468.8 L141,1481 C134,1490 121,1495.3 104,1495.3 C82,1495.3 68,1481 68,1462 C68,1443 83,1429.6 104,1429.6 C121,1429.6 135,1436 142,1443.8 Z"/>
<path fill="#000" d="M108.7,1432 L108.7,1444.3 C97,1444.5 87.2,1450 87.2,1457.5 L94,1457.5 L94,1468.8 L87.2,1468.8 C87.5,1476 97,1482 108.7,1482 L108.7,1492.8 C86,1492.8 71,1479 71,1462 C71,1445 86,1432 108.7,1432 Z"/>
<rect x="112.2" y="1444.8" width="11.8" height="47.1" fill="#000"/>
<ellipse cx="118" cy="1438" rx="6.9" ry="6" fill="#000"/>
<text x="162.09" y="1456.8" font-family='"Liberation Sans", sans-serif' font-size="21.66" font-weight="bold" font-style="italic" fill="#000" text-anchor="start" textLength="262.3" lengthAdjust="spacingAndGlyphs" stroke="#000" stroke-width="1.1" stroke-linejoin="round">Electro Industries</text>
<text x="160.98" y="1480.3" font-family='"Liberation Sans", sans-serif' font-size="21.66" font-weight="bold" font-style="italic" fill="#000" text-anchor="start" textLength="158.4" lengthAdjust="spacingAndGlyphs" stroke="#000" stroke-width="1.1" stroke-linejoin="round">GaugeTech</text>
</g>
</svg></body></html>
